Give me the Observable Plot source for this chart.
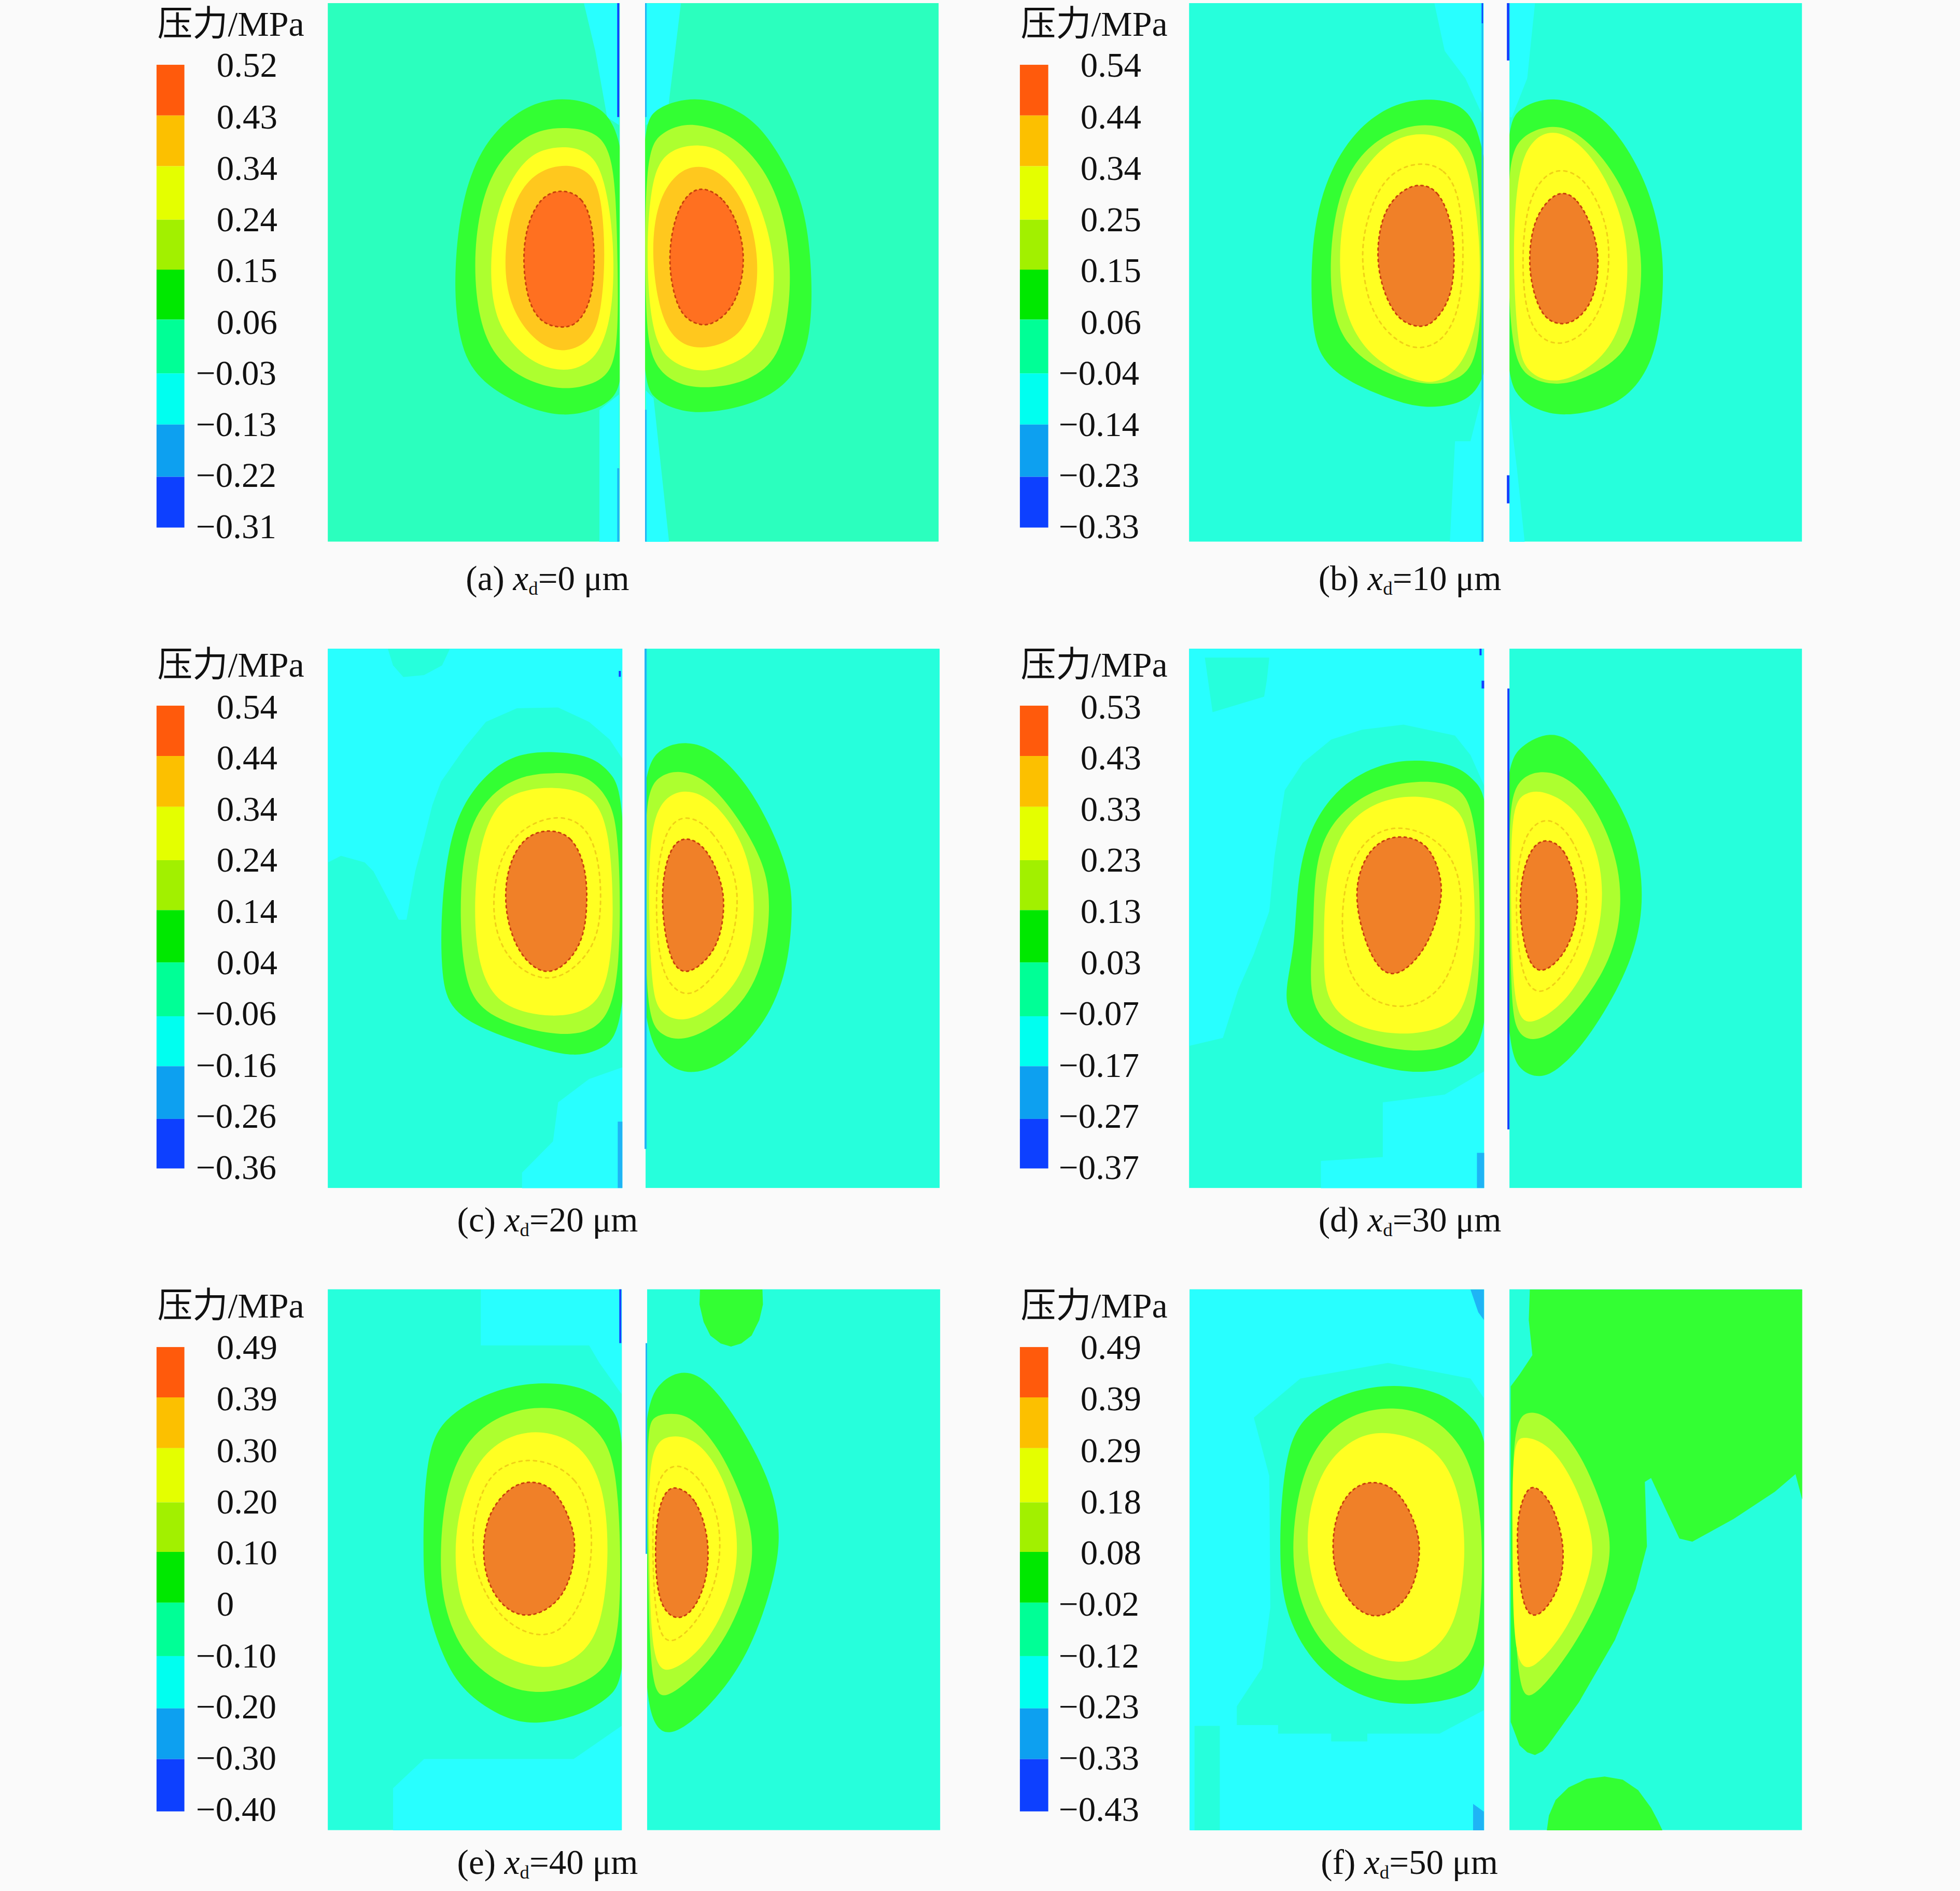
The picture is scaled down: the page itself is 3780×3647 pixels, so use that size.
<!DOCTYPE html>
<html><head><meta charset="utf-8">
<script src="https://cdn.jsdelivr.net/npm/d3@7"></script>
<script src="https://cdn.jsdelivr.net/npm/@observablehq/plot@0.6"></script>
<style>
html,body{margin:0;padding:0;background:#fafafa;width:3780px;height:3647px;overflow:hidden}
#page{position:relative;width:3780px;height:3647px}
.panel{position:absolute;width:1560px;height:1180px}
.panel svg{display:block;background:transparent}
.cap{position:absolute;font:67px/80px "Liberation Serif",serif;color:#111;white-space:nowrap;transform:translateX(-50%)}
.cap sub{font-size:.55em;line-height:0;vertical-align:-.25em}
</style></head><body><div id="page"></div>
<script>
// Colours
const legendColors=["#ff5a0c","#fcc000","#e4ff00","#a2f000","#00e800","#00ff96","#00fff0","#0da0f0","#0d40ff"];
const GREEN="#33ff33",LIME="#adff2f",YELLOW="#ffff22",AMBER="#ffc81e",ORANGE_A="#ff7020",ORANGE="#f08028",
      TEAL_A="#2bffbe",TEAL="#26ffdc",CYAN="#28ffff",BLUE="#1fb4f5",DARK="#1440ff",RING="#f0d018",RIM="#c8400c";
// Legend values and caption text
const labelsA=["0.52","0.43","0.34","0.24","0.15","0.06","−0.03","−0.13","−0.22","−0.31"];
const labelsB=["0.54","0.44","0.34","0.25","0.15","0.06","−0.04","−0.14","−0.23","−0.33"];
const labelsC=["0.54","0.44","0.34","0.24","0.14","0.04","−0.06","−0.16","−0.26","−0.36"];
const labelsD=["0.53","0.43","0.33","0.23","0.13","0.03","−0.07","−0.17","−0.27","−0.37"];
const labelsE=["0.49","0.39","0.30","0.20","0.10","0","−0.10","−0.20","−0.30","−0.40"];
const labelsF=["0.49","0.39","0.29","0.18","0.08","−0.02","−0.12","−0.23","−0.33","−0.43"];
const captionTag=["(a)","(b)","(c)","(d)","(e)","(f)"];
const captionXd=["0","10","20","30","40","50"];
// Legend band edges and label rows (one per figure row)
const edgesR1=[166,296,426,563,691,819,957,1088,1222,1352];
const edgesR2=[174,303,433,570,698,832,970,1098,1233,1360];
const edgesR3=[170,299,429,568,695,825,962,1096,1226,1360];
const rowsR1=[168,300,432,563,694,826,957,1088,1219,1350];
const rowsR2=[178,308,440,570,702,833,964,1096,1227,1358];
const rowsR3=[172,303,436,567,698,829,962,1093,1224,1356];

// ---- (a) xd=0
const aStripL1=[[850,8],[918,8],[918,320],[895,300],[872,130]];
const aStripL2=[[880,1050],[918,1010],[918,1388],[880,1388]];
const aStripR1=[[970,8],[1038,8],[1012,290],[970,320]];
const aStripR2=[[970,1000],[985,1020],[1015,1388],[970,1388]];
const aGreenL=[[820,250],[880,270],[910,320],[925,400],[930,500],[930,950],[910,1025],[860,1055],[810,1066],[750,1050],[680,1005],[620,935],[600,800],[600,660],[615,500],[655,365],[720,285],[770,257]];
const aLimeL=[[820,325],[875,338],[900,385],[912,480],[916,700],[916,900],[895,970],[840,995],[790,995],[730,970],[676,914],[646,820],[636,680],[646,540],[676,426],[728,356],[770,330]];
const aYellowL=[[820,373],[864,391],[889,450],[908,600],[908,780],[884,904],[840,945],[800,950],[750,930],[697,864],[671,780],[668,640],[686,516],[728,416],[770,380]];
const aAmberL=[[820,417],[864,441],[884,500],[892,650],[884,800],[864,875],[815,903],[770,890],[722,824],[696,730],[698,610],[716,506],[758,436]];
const aOrangeL=[[810,483],[849,506],[866,570],[872,670],[864,774],[838,830],[810,841],[768,830],[741,774],[731,670],[738,578],[767,500]];
const aGreenR=[[1075,250],[1132,270],[1189,316],[1240,418],[1275,520],[1290,650],[1293,800],[1280,914],[1239,990],[1178,1035],[1100,1057],[1040,1056],[985,1025],[960,965],[960,335],[985,280],[1030,257]];
const aLimeR=[[1070,317],[1133,341],[1194,418],[1235,530],[1253,680],[1245,832],[1219,935],[1152,985],[1080,995],[1030,985],[980,935],[968,800],[968,395],[997,341],[1035,320]];
const aYellowR=[[1075,367],[1123,386],[1169,458],[1205,570],[1223,700],[1210,832],[1174,915],[1102,950],[1060,950],[1007,920],[980,842],[970,650],[981,437],[1018,380]];
const aAmberR=[[1072,420],[1118,441],[1164,518],[1190,650],[1183,782],[1149,870],[1075,898],[1027,875],[996,802],[980,650],[991,518],[1028,441]];
const aOrangeR=[[1078,475],[1123,506],[1154,588],[1163,680],[1144,783],[1103,830],[1075,835],[1037,810],[1018,722],[1015,640],[1026,558],[1047,500]];

// ---- (b) xd=10
const bStripL1=[[820,8],[915,8],[915,300],[880,200],[840,130]];
const bStripL2=[[915,1000],[915,1388],[850,1388],[860,1130],[890,1130]];
const bStripR1=[[966,8],[1015,8],[1000,200],[970,300],[966,300]];
const bStripR2=[[966,1050],[980,1200],[995,1388],[966,1388]];
const bGreenL=[[800,250],[864,261],[899,306],[916,400],[930,500],[930,900],[910,990],[874,1035],[800,1047],[738,1025],[647,975],[596,914],[581,820],[581,620],[606,468],[657,346],[728,270]];
const bLimeL=[[800,315],[864,331],[899,388],[909,500],[912,800],[899,945],[852,980],[800,987],[718,955],[646,884],[618,780],[618,600],[646,448],[698,366],[750,330]];
const bYellowL=[[800,340],[854,356],[889,428],[909,600],[909,800],[879,930],[832,980],[790,980],[718,935],[666,864],[636,750],[636,588],[661,468],[718,376],[760,347]];
const bRingL=[[795,415],[840,430],[870,500],[878,650],[870,790],[840,870],[795,897],[750,880],[700,810],[680,700],[680,600],[710,480],[750,430]];
const bOrangeL=[[792,469],[828,486],[854,568],[860,660],[854,763],[818,830],[790,840],[747,820],[716,732],[707,640],[721,538],[758,485]];
const bGreenR=[[1060,250],[1123,276],[1174,336],[1225,448],[1255,570],[1267,700],[1255,882],[1219,985],[1163,1045],[1070,1068],[1018,1050],[976,1015],[956,925],[956,335],[981,280],[1018,257]];
const bLimeR=[[1050,315],[1103,341],[1164,428],[1209,548],[1225,680],[1215,802],[1194,905],[1122,965],[1060,990],[998,970],[971,905],[962,700],[962,415],[986,346]];
const bYellowR=[[1055,330],[1108,371],[1154,458],[1190,578],[1197,700],[1185,832],[1144,925],[1060,990],[997,955],[981,884],[971,650],[981,428],[1012,351]];
const bRingR=[[1055,425],[1110,450],[1150,550],[1162,650],[1150,780],[1110,860],[1060,888],[1015,860],[992,770],[990,600],[1010,480]];
const bOrangeR=[[1060,483],[1098,506],[1129,588],[1141,670],[1129,773],[1093,825],[1060,833],[1027,810],[1006,722],[1003,640],[1016,548]];

// ---- (c) xd=20
const cCyanL1=[[354,28],[925,28],[925,310],[900,260],[860,215],[800,178],[720,180],[660,215],[620,279],[573,368],[556,429],[540,514],[523,598],[506,722],[491,722],[474,678],[442,598],[425,575],[379,558],[354,575]];
const cTealL1=[[470,28],[590,28],[575,70],[540,95],[500,100],[480,70]];
const cCyanL2=[[925,1100],[860,1130],[800,1190],[790,1290],[730,1370],[730,1410],[925,1410]];
const cGreenL=[[790,290],[864,301],[904,346],[930,408],[935,1005],[884,1055],[832,1075],[758,1050],[656,1005],[586,950],[573,850],[573,700],[586,538],[616,416],[678,326],[730,295]];
const cLimeL=[[790,345],[854,348],[899,408],[919,500],[922,852],[894,995],[822,1023],[728,1000],[646,955],[614,862],[608,640],[626,478],[678,386],[738,350]];
const cYellowL=[[790,380],[864,396],[899,478],[909,700],[899,882],[864,955],[790,975],[698,950],[656,884],[636,760],[641,558],[676,426],[728,390]];
const cRingL=[[785,450],[850,470],[880,560],[885,700],[870,800],[800,885],[730,860],[680,780],[670,650],[700,510]];
const cOrangeL=[[780,488],[828,506],[854,588],[857,680],[849,783],[802,857],[758,857],[716,793],[695,690],[701,588],[732,510]];
const cGreenR=[[1050,263],[1103,286],[1164,368],[1215,488],[1250,610],[1255,700],[1245,852],[1204,985],[1132,1085],[1060,1123],[1007,1095],[970,1015],[960,800],[960,345],[997,280]];
const cLimeR=[[1040,337],[1093,366],[1154,468],[1200,578],[1213,680],[1200,832],[1153,955],[1050,1038],[997,1020],[970,965],[968,600],[970,395],[997,350]];
const cYellowR=[[1045,380],[1103,416],[1164,528],[1185,680],[1170,832],[1123,925],[1050,990],[997,965],[981,905],[974,650],[981,426]];
const cRingR=[[1050,450],[1100,490],[1145,600],[1150,700],[1130,820],[1090,885],[1050,925],[1005,880],[990,760],[990,600],[1010,480]];
const cOrangeR=[[1050,508],[1088,536],[1119,628],[1123,700],[1109,802],[1050,870],[1017,835],[1000,700],[1004,598],[1022,526]];

// ---- (d) xd=30
const dCyanL1=[[345,28],[917,28],[917,380],[890,300],[860,250],[760,222],[680,235],[620,260],[565,320],[530,390],[510,560],[500,700],[470,810],[440,900],[410,1025],[345,1045]];
const dTealL1=[[375,50],[500,50],[495,110],[490,150],[440,170],[390,190]];
const dCyanL2=[[917,1110],[840,1170],[720,1190],[720,1330],[600,1340],[600,1410],[917,1410]];
const dGreenL=[[790,310],[864,326],[899,366],[930,416],[930,1005],[884,1095],[790,1120],[698,1095],[596,1045],[536,974],[530,900],[550,790],[553,630],[576,488],[636,376],[718,320]];
const dLimeL=[[790,362],[864,376],[894,428],[909,600],[909,955],[864,1045],[780,1065],[668,1035],[586,974],[578,860],[586,760],[586,618],[606,488],[688,390]];
const dYellowL=[[790,400],[864,426],[889,498],[904,750],[884,955],[832,1005],[750,1020],[658,995],[606,924],[606,800],[606,638],[636,488],[708,415]];
const dRingL=[[760,470],[860,540],[880,700],[850,900],[760,960],[680,920],[640,820],[640,640],[680,510]];
const dOrangeL=[[760,505],[808,526],[834,608],[835,682],[804,803],[745,875],[706,844],[676,742],[665,640],[686,558],[718,516]];
const dGreenR=[[1045,237],[1093,266],[1154,368],[1205,488],[1225,620],[1220,752],[1184,884],[1114,1035],[1062,1105],[1025,1130],[986,1110],[965,1055],[955,800],[955,335],[986,275]];
const dLimeR=[[1030,333],[1093,366],[1144,458],[1180,588],[1183,722],[1154,854],[1073,995],[1015,1038],[976,1015],[968,905],[964,500],[971,365]];
const dYellowR=[[1030,390],[1088,426],[1134,528],[1150,650],[1135,792],[1084,925],[1010,995],[974,975],[968,700],[968,425],[998,395]];
const dRingR=[[1040,450],[1090,510],[1120,630],[1110,770],[1070,870],[1020,925],[985,860],[975,660],[990,500]];
const dOrangeR=[[1035,512],[1073,536],[1096,628],[1100,702],[1079,804],[1030,865],[1001,835],[985,720],[987,618],[1007,536]];

// ---- (e) xd=40
const eCyanL1=[[640,22],[923,22],[923,290],[880,210],[860,165],[650,165],[650,22]];
const eCyanL2=[[480,1408],[480,1300],[540,1225],[830,1225],[923,1140],[923,1408]];
const eCapR=[[1075,22],[1196,22],[1197,60],[1190,100],[1175,140],[1155,160],[1135,168],[1115,160],[1095,140],[1082,105],[1074,60]];
const eGreenL=[[770,257],[854,271],[909,326],[930,398],[935,1005],[904,1065],[842,1115],[760,1137],[698,1125],[616,1055],[576,964],[543,832],[537,700],[543,428],[586,341],[678,276]];
const eLimeL=[[770,320],[832,336],[894,398],[919,520],[924,902],[889,1015],[780,1062],[698,1045],[616,964],[576,832],[570,700],[581,528],[626,396],[698,336]];
const eYellowL=[[770,380],[843,416],[889,518],[900,700],[884,902],[832,975],[770,998],[688,965],[626,884],[600,770],[600,618],[636,468],[698,396]];
const eRingL=[[760,450],[840,500],[870,620],[860,800],[800,920],[720,900],[660,820],[625,680],[650,530],[690,470]];
const eOrangeL=[[745,511],[793,526],[830,628],[835,700],[814,813],[750,867],[697,845],[661,773],[652,680],[666,588],[708,526]];
const eGreenR=[[1045,225],[1093,256],[1154,368],[1210,508],[1230,620],[1227,732],[1174,954],[1093,1095],[1020,1170],[986,1145],[970,1055],[963,800],[963,335],[997,255]];
const eLimeR=[[1020,338],[1058,346],[1114,428],[1165,578],[1180,680],[1170,782],[1114,955],[1010,1078],[981,1055],[974,800],[972,395],[981,345]];
const eYellowR=[[1015,391],[1073,406],[1124,508],[1150,640],[1145,782],[1089,935],[1020,1005],[981,995],[976,700],[974,426]];
const eRingR=[[1020,462],[1070,490],[1115,600],[1115,740],[1080,860],[1020,940],[990,900],[982,700],[985,520]];
const eOrangeR=[[1030,525],[1068,556],[1093,658],[1090,763],[1064,845],[1030,873],[996,835],[987,720],[991,598],[1008,535]];

// ---- (f) xd=50
const fCyanLeft=[[346,22],[917,22],[917,1408],[346,1408]];
const fTealStrip=[[355,1140],[404,1140],[404,1408],[355,1408]];
const fHalo=[[470,350],[560,250],[730,210],[890,250],[916,300],[916,1100],[830,1160],[690,1160],[690,1180],[620,1180],[620,1160],[517,1160],[517,1138],[437,1138],[437,1090],[486,992],[502,837],[500,500]];
const fBandL1=[[890,22],[916,22],[916,100],[905,80]];
const fBandL2=[[895,1340],[916,1360],[916,1408],[895,1408]];
const fGreenL=[[740,263],[832,281],[904,356],[930,438],[930,1015],[884,1065],[790,1088],[698,1080],[596,1005],[530,862],[517,700],[530,408],[586,326],[658,281]];
const fLimeL=[[740,321],[812,341],[884,428],[915,600],[912,882],[884,995],[770,1033],[678,1010],[596,934],[550,792],[543,660],[561,498],[606,391],[668,336]];
const fYellowL=[[730,383],[813,416],[864,508],[885,680],[864,892],[802,965],[750,983],[678,955],[606,864],[573,730],[573,598],[606,468],[668,396]];
const fOrangeL=[[705,510],[753,536],[790,638],[793,712],[774,813],[716,870],[667,845],[631,773],[620,680],[631,588],[662,526]];
const fRegionR=[[1005,22],[1533,22],[1533,560],[1520,495],[1480,540],[1400,610],[1320,668],[1295,660],[1270,590],[1240,505],[1228,515],[1232,680],[1210,790],[1170,920],[1100,1080],[1040,1190],[1030,1205],[1015,1215],[1000,1208],[985,1190],[968,1130],[968,270],[985,240],[1010,190],[1003,100]];
const fLimeR=[[1000,330],[1043,346],[1104,438],[1150,590],[1165,680],[1149,792],[1093,935],[1010,1078],[981,1060],[971,700],[971,365]];
const fYellowR=[[990,395],[1043,416],[1094,518],[1130,660],[1125,742],[1084,884],[1010,1005],[974,985],[971,700],[971,415]];
const fOrangeR=[[1015,522],[1048,566],[1075,680],[1064,792],[1020,870],[991,845],[980,700],[981,598],[998,535]];
const fCapR=[[1038,1408],[1042,1370],[1055,1330],[1080,1298],[1115,1276],[1150,1270],[1185,1278],[1215,1305],[1240,1350],[1252,1380],[1262,1408]];

// Panel tables: [fill, points, smooth?]
const S=true,L=false;
const panelLayers=[
 [[CYAN,aStripL1,L],[CYAN,aStripL2,L],[CYAN,aStripR1,L],[CYAN,aStripR2,L],
  [GREEN,aGreenL,S],[LIME,aLimeL,S],[YELLOW,aYellowL,S],[AMBER,aAmberL,S],[ORANGE_A,aOrangeL,S],
  [GREEN,aGreenR,S],[LIME,aLimeR,S],[YELLOW,aYellowR,S],[AMBER,aAmberR,S],[ORANGE_A,aOrangeR,S]],
 [[CYAN,bStripL1,L],[CYAN,bStripL2,L],[CYAN,bStripR1,L],[CYAN,bStripR2,L],
  [GREEN,bGreenL,S],[LIME,bLimeL,S],[YELLOW,bYellowL,S],[ORANGE,bOrangeL,S],
  [GREEN,bGreenR,S],[LIME,bLimeR,S],[YELLOW,bYellowR,S],[ORANGE,bOrangeR,S]],
 [[CYAN,cCyanL1,L],[TEAL,cTealL1,L],[CYAN,cCyanL2,L],
  [GREEN,cGreenL,S],[LIME,cLimeL,S],[YELLOW,cYellowL,S],[ORANGE,cOrangeL,S],
  [GREEN,cGreenR,S],[LIME,cLimeR,S],[YELLOW,cYellowR,S],[ORANGE,cOrangeR,S]],
 [[CYAN,dCyanL1,L],[TEAL,dTealL1,L],[CYAN,dCyanL2,L],
  [GREEN,dGreenL,S],[LIME,dLimeL,S],[YELLOW,dYellowL,S],[ORANGE,dOrangeL,S],
  [GREEN,dGreenR,S],[LIME,dLimeR,S],[YELLOW,dYellowR,S],[ORANGE,dOrangeR,S]],
 [[CYAN,eCyanL1,L],[CYAN,eCyanL2,L],[GREEN,eCapR,L],
  [GREEN,eGreenL,S],[LIME,eLimeL,S],[YELLOW,eYellowL,S],[ORANGE,eOrangeL,S],
  [GREEN,eGreenR,S],[LIME,eLimeR,S],[YELLOW,eYellowR,S],[ORANGE,eOrangeR,S]],
 [[CYAN,fCyanLeft,L],[TEAL,fTealStrip,L],[TEAL,fHalo,L],[BLUE,fBandL1,L],[BLUE,fBandL2,L],
  [GREEN,fGreenL,S],[LIME,fLimeL,S],[YELLOW,fYellowL,S],[ORANGE,fOrangeL,S],
  [GREEN,fRegionR,L],[LIME,fLimeR,S],[YELLOW,fYellowR,S],[ORANGE,fOrangeR,S],[GREEN,fCapR,L]]
];
const panelRings=[[],[bRingL,bRingR],[cRingL,cRingR],[dRingL,dRingR],[eRingL,eRingR],[]];
// Wall marks: [x1,x2,y1,y2,fill]
const panelWalls=[
 [[915,919,8,300,DARK],[969,972,8,300,BLUE],[969,972,1050,1388,BLUE],[915,919,1200,1388,BLUE]],
 [[912,915,8,60,DARK],[961,966,8,155,DARK],[961,966,1218,1290,DARK],[912,915,60,1388,BLUE]],
 [[918,922,85,100,DARK],[968,972,28,1310,BLUE],[916,925,1240,1410,BLUE]],
 [[908,912,28,45,DARK],[912,917,110,130,DARK],[962,966,130,1260,DARK],[903,917,1320,1410,BLUE]],
 [[919,923,22,160,DARK],[970,973,160,700,BLUE]],
 []
];
const fieldLeft=[354,345,354,345,354,346];
const fieldRight=[1538,1533,1540,1533,1541,1533];
const fieldTop=[8,8,28,28,22,22];
const fieldBottom=[1388,1388,1410,1410,1408,1408];
const gapLeft=[920,916,925,917,924,917];
const gapRight=[969,966,970,966,973,966];
const fieldFill=[TEAL_A,TEAL,TEAL,TEAL,TEAL,TEAL];
const legendX1=[22,17,22,17,22,17];
const legendX2=[76,72,76,72,76,72];
const labelLists=[labelsA,labelsB,labelsC,labelsD,labelsE,labelsF];
const edgeLists=[edgesR1,edgesR1,edgesR2,edgesR2,edgesR3,edgesR3];
const rowLists=[rowsR1,rowsR1,rowsR2,rowsR2,rowsR3,rowsR3];
const titleY=[62,62,70,70,65,65];
const originX=[280,1950,280,1950,280,1950];
const originY=[0,0,1230,1230,2470,2470];
const captionZx=[780,773,780,773,780,772];
const captionZy=[1481,1481,1491,1491,1489,1489];

const FONT='"Liberation Serif","Noto Sans CJK SC",serif';
const page=document.getElementById("page");
const px=d=>d[0],py=d=>d[1];

panelLayers.forEach((layers,i)=>{
  const edges=edgeLists[i];
  const bands=legendColors.map((c,k)=>({c,y1:edges[k],y2:edges[k+1]}));
  const negShift=legendX1[i]===22?98:92, posX=legendX1[i]===22?138:134;
  const labels=labelLists[i].map((t,k)=>({t,x:t.startsWith("−")?negShift:posX,y:rowLists[i][k]}));
  const fig=Plot.plot({
    width:1560,height:1180,margin:0,
    x:{domain:[0,1568],axis:null},
    y:{domain:[0,1568],reverse:true,axis:null},
    style:{background:"transparent"},
    marks:[
      Plot.rect([0],{x1:()=>fieldLeft[i],x2:()=>fieldRight[i],y1:()=>fieldTop[i],y2:()=>fieldBottom[i],fill:fieldFill[i]}),
      ...layers.map(([fill,pts,smooth])=>Plot.line(pts,{x:px,y:py,fill,stroke:(fill===ORANGE||fill===ORANGE_A)?RIM:"none",strokeWidth:3,strokeDasharray:"4 7",curve:smooth?"basis-closed":"linear-closed"})),
      ...panelRings[i].map(pts=>Plot.line(pts,{x:px,y:py,stroke:RING,strokeWidth:3,strokeDasharray:"6 8",curve:"basis-closed"})),
      Plot.rect([0],{x1:()=>gapLeft[i],x2:()=>gapRight[i],y1:()=>0,y2:()=>fieldBottom[i]+4,fill:"#fafafa"}),
      Plot.rect(panelWalls[i],{x1:d=>d[0],x2:d=>d[1],y1:d=>d[2],y2:d=>d[3],fill:d=>d[4]}),
      ...bands.map(b=>Plot.rect([b],{x1:()=>legendX1[i],x2:()=>legendX2[i],y1:d=>d.y1,y2:d=>d.y2,fill:b.c})),
      Plot.text(labels,{x:"x",y:"y",text:"t",textAnchor:"start",fontSize:67,fontFamily:FONT,fill:"#111"}),
      Plot.text(["压力/MPa"],{x:()=>legendX1[i]+1,y:()=>titleY[i],text:d=>d,textAnchor:"start",fontSize:68,fontFamily:FONT,fill:"#111"})
    ]
  });
  const div=document.createElement("div");
  div.className="panel";
  div.style.left=originX[i]+"px";
  div.style.top=originY[i]+"px";
  div.appendChild(fig);
  page.appendChild(div);
  const cap=document.createElement("div");
  cap.className="cap";
  cap.style.left=(originX[i]+captionZx[i]*1560/1568)+"px";
  cap.style.top=(originY[i]+captionZy[i]*1180/1568-40)+"px";
  cap.innerHTML=`${captionTag[i]} <i>x</i><sub>d</sub>=${captionXd[i]} μm`;
  page.appendChild(cap);
});
</script></body></html>
